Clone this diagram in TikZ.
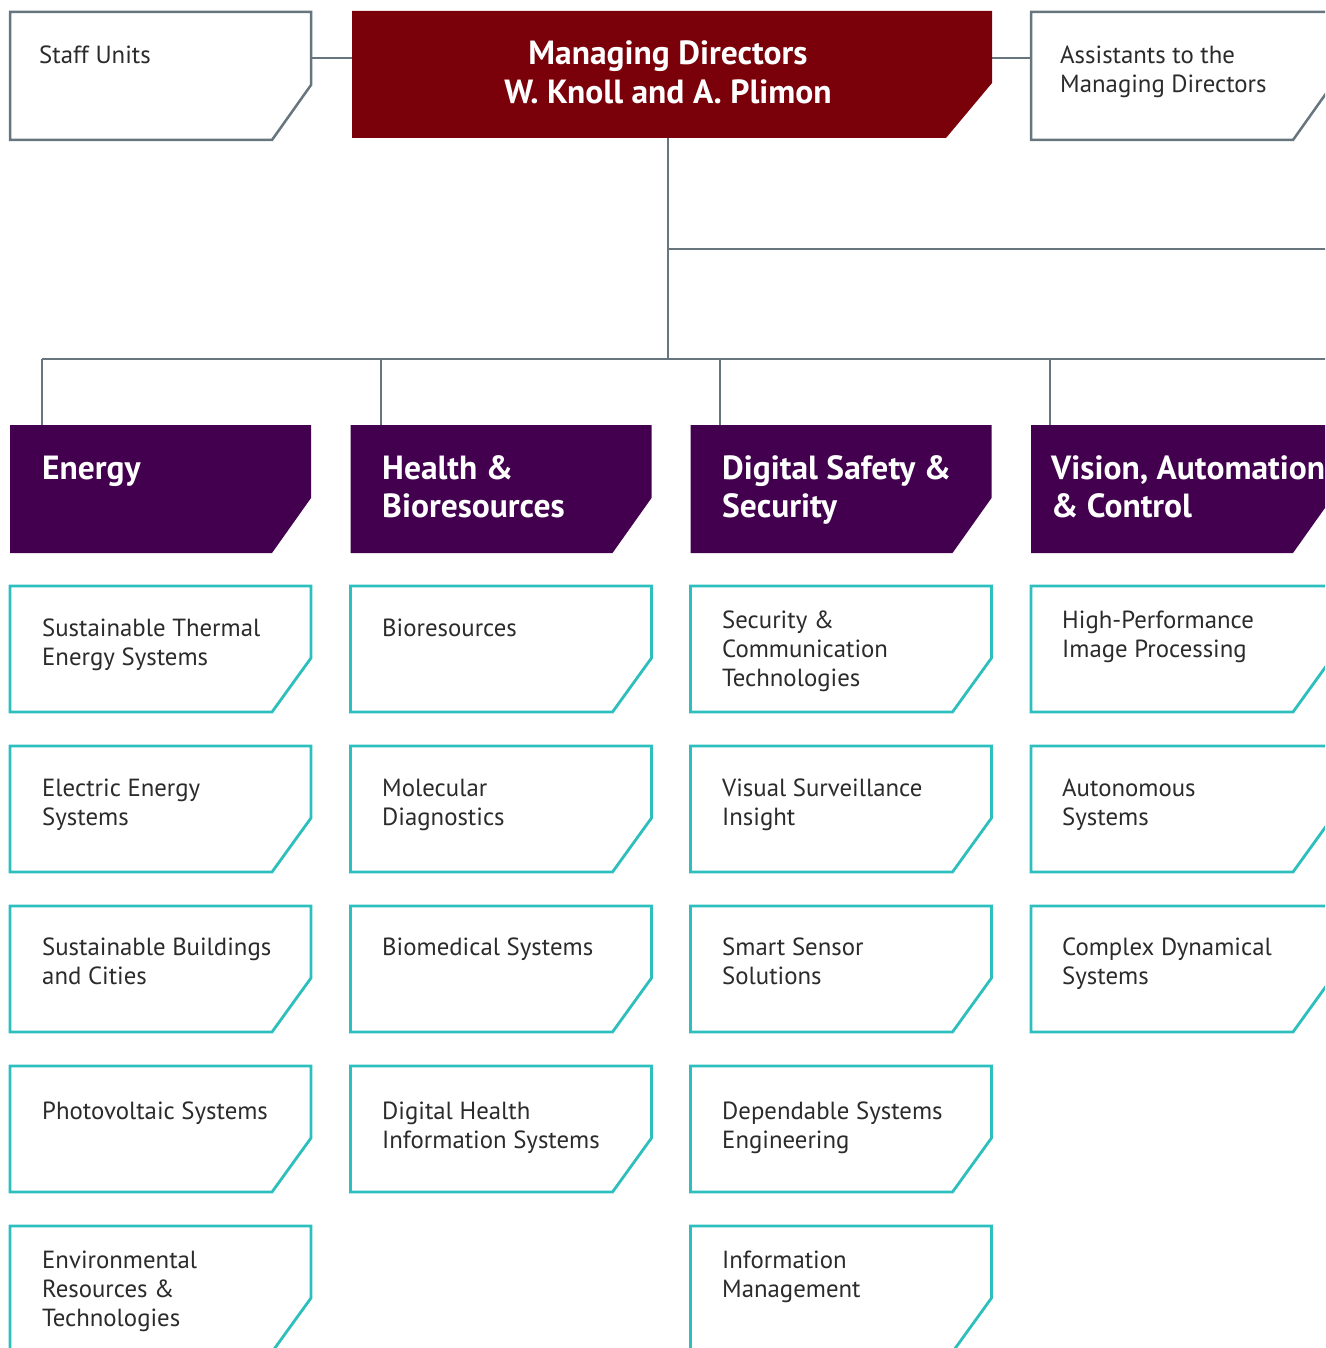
\documentclass[tikz,border=0pt]{standalone}
\usepackage{fontspec}
\setmainfont{PT Sans}
\definecolor{mdred}{HTML}{7A0009}
\definecolor{divpurple}{HTML}{42004F}
\definecolor{teal2}{HTML}{2DBEBE}
\definecolor{linkgray}{HTML}{66757E}
\definecolor{txt}{HTML}{2B2B2B}
\newcommand\bevel[4]{%
  \path[#2] (#1.north west) -- (#1.north east) -- ([yshift=#4]#1.south east)
    -- ([xshift=-#3]#1.south east) -- (#1.south west) -- cycle;}
\begin{document}
\begin{tikzpicture}[x=1pt,y=-1pt,
  frame/.style={minimum width=301pt, minimum height=128pt, inner sep=0pt, outer sep=0pt},
  deptframe/.style={frame, minimum height=126pt},
  lbl/.style={anchor=base west, align=left, inner sep=0pt, text=txt,
    font=\fontsize{24.8}{29}\selectfont},
  hlbl/.style={anchor=base west, align=left, inner sep=0pt, text=white,
    font=\bfseries\fontsize{33.5}{38}\selectfont},
  link/.style={draw=linkgray, line width=2.5pt},
  grayout/.style={draw=linkgray, line width=2.5pt, fill=white},
  tealout/.style={draw=teal2, line width=2.8pt, fill=white},
  redfill/.style={fill=mdred},
  purplefill/.style={fill=divpurple}]
\useasboundingbox (0,0) rectangle (1325,1348);
\clip (0,0) rectangle (1325,1348);

% top level
\node[frame] (su) at (160.5,76) {};
\node[frame, minimum width=640pt, minimum height=127pt] (md) at (672,74.5) {};
\node[frame] (as) at (1181.5,76) {};

% divisions
\node[frame] (hE) at (160.5,489) {};
\node[frame] (hH) at (501,489) {};
\node[frame] (hD) at (841,489) {};
\node[frame] (hV) at (1181.5,489) {};

% connectors
\coordinate (trunk) at (668,359);
\coordinate (rend) at (1340,249);
\coordinate (bend) at (1340,359);
\coordinate (b1) at (42,359);
\coordinate (b2) at (381,359);
\coordinate (b3) at (720,359);
\coordinate (b4) at (1050,359);
\draw[link] (su.east |- 0,58) -- (md.west |- 0,58);
\draw[link] (md.east |- 0,58) -- (as.west |- 0,58);
\draw[link] (trunk |- md.south) -- (trunk);
\draw[link] (trunk |- rend) -- (rend);
\draw[link] (b1) -- (bend);
\draw[link] (b1) -- (b1 |- hE.north);
\draw[link] (b2) -- (b2 |- hH.north);
\draw[link] (b3) -- (b3 |- hD.north);
\draw[link] (b4) -- (b4 |- hV.north);

\bevel{su}{grayout}{39pt}{55pt}
\bevel{md}{redfill}{46pt}{55pt}
\bevel{as}{grayout}{39pt}{55pt}
\bevel{hE}{purplefill}{39pt}{55pt}
\bevel{hH}{purplefill}{39pt}{55pt}
\bevel{hD}{purplefill}{39pt}{55pt}
\bevel{hV}{purplefill}{39pt}{55pt}

% (text nodes are anchored at the baseline of their last line)
\node[lbl] (tsu) at (39,64) {Staff Units};
\node[anchor=base, align=center, inner sep=0pt, text=white,
  font=\bfseries\fontsize{33.5}{39}\selectfont] (tmd) at (668,104)
  {Managing Directors\\W. Knoll and A. Plimon};
\node[lbl] (tas) at (1060,93) {Assistants to the\\Managing Directors};

\node[hlbl] (thE) at (42,479) {Energy};
\node[hlbl] (thH) at (382,517) {Health \&\\Bioresources};
\node[hlbl] (thD) at (722,517) {Digital Safety \&\\Security};
\node[hlbl] (thV) at (1051,517) {Vision, Automation\\\& Control};

% departments: column 1
\node[deptframe] (e1) at (160.5,649) {};
\node[deptframe] (e2) at (160.5,809) {};
\node[deptframe] (e3) at (160.5,969) {};
\node[deptframe] (e4) at (160.5,1129) {};
\node[deptframe] (e5) at (160.5,1289) {};
% column 2
\node[deptframe] (h1) at (501,649) {};
\node[deptframe] (h2) at (501,809) {};
\node[deptframe] (h3) at (501,969) {};
\node[deptframe] (h4) at (501,1129) {};
% column 3
\node[deptframe] (d1) at (841,649) {};
\node[deptframe] (d2) at (841,809) {};
\node[deptframe] (d3) at (841,969) {};
\node[deptframe] (d4) at (841,1129) {};
\node[deptframe] (d5) at (841,1289) {};
% column 4
\node[deptframe] (v1) at (1181.5,649) {};
\node[deptframe] (v2) at (1181.5,809) {};
\node[deptframe] (v3) at (1181.5,969) {};

\foreach \n in {e1,e2,e3,e4,e5,h1,h2,h3,h4,d1,d2,d3,d4,d5,v1,v2,v3}{\bevel{\n}{tealout}{39pt}{54pt}}

\node[lbl] (te1) at (42,665) {Sustainable Thermal\\Energy Systems};
\node[lbl] (te2) at (42,825) {Electric Energy\\Systems};
\node[lbl] (te3) at (42,984) {Sustainable Buildings\\and Cities};
\node[lbl] (te4) at (42,1119) {Photovoltaic Systems};
\node[lbl] (te5) at (42,1326) {Environmental\\Resources \&\\Technologies};

\node[lbl] (th1) at (382,636) {Bioresources};
\node[lbl] (th2) at (382,825) {Molecular\\Diagnostics};
\node[lbl] (th3) at (382,955) {Biomedical Systems};
\node[lbl] (th4) at (382,1148) {Digital Health\\Information Systems};

\node[lbl] (td1) at (722,686) {Security \&\\Communication\\Technologies};
\node[lbl] (td2) at (722,825) {Visual Surveillance\\Insight};
\node[lbl] (td3) at (722,984) {Smart Sensor\\Solutions};
\node[lbl] (td4) at (722,1148) {Dependable Systems\\Engineering};
\node[lbl] (td5) at (722,1297) {Information\\Management};

\node[lbl] (tv1) at (1062,657) {High-Performance\\Image Processing};
\node[lbl] (tv2) at (1062,825) {Autonomous\\Systems};
\node[lbl] (tv3) at (1062,984) {Complex Dynamical\\Systems};
\end{tikzpicture}
\end{document}
